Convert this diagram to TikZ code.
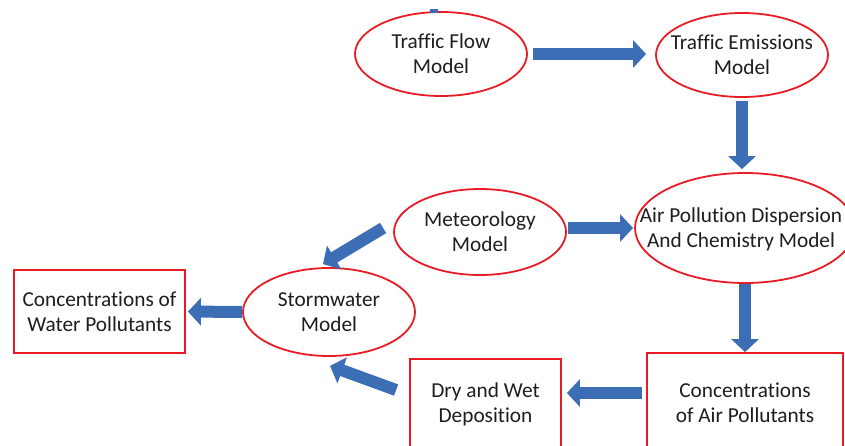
\documentclass[tikz,border=0pt]{standalone}
\usepackage{fontspec}
\setmainfont[Ligatures={NoCommon}]{Carlito}
\usetikzlibrary{shapes.geometric,arrows.meta,calc}
\definecolor{edgered}{RGB}{232,28,36}
\definecolor{arrowblue}{RGB}{59,110,181}
\definecolor{txt}{RGB}{30,30,30}
\begin{document}
\begin{tikzpicture}[x=1pt,y=-1pt,
  lbl/.style={align=center,text=txt,font=\fontsize{21.3}{25}\selectfont,inner sep=0pt},
  oval/.style={ellipse,draw=edgered,line width=1.8pt,fill=white,inner sep=0pt},
  box/.style={lbl,rectangle,draw=edgered,line width=1.8pt,fill=white},
  blk/.style={draw=arrowblue,line width=12pt,-{Triangle[length=13pt,width=27pt]}}
]
\useasboundingbox (0,0) rectangle (845,445);
\clip (0,0) rectangle (845,445);
\fill[white] (0,0) rectangle (845,445);

\node[oval,minimum width=172pt,minimum height=84pt] (flow) at (441,54) {};
\node[lbl] (flowt) at (flow.center) {Traffic Flow\\Model};
\node[oval,minimum width=172pt,minimum height=84pt] (emis) at (742,55) {};
\node[lbl] (emist) at (emis.center) {Traffic Emissions\\Model};
\node[oval,minimum width=172pt,minimum height=86pt] (met) at (480,232) {};
\node[lbl] (mett) at (met.center) {Meteorology\\Model};
\node[oval,minimum width=220pt,minimum height=110pt] (air) at (745,228) {};
\node[lbl] (airt) at (741,229) {Air Pollution Dispersion\\And Chemistry Model};
\node[oval,minimum width=172pt,minimum height=88pt] (storm) at (329,312) {};
\node[lbl] (stormt) at (storm.center) {Stormwater\\Model};
\node[box,minimum width=171pt,minimum height=83pt] (water) at (99.5,311.5) {Concentrations of\\Water Pollutants};
\node[box,minimum width=151pt,minimum height=90pt] (dry) at (485.5,404) {Dry and Wet\\Deposition};
\node[box,minimum width=196pt,minimum height=100pt] (concair) at (745,403) {Concentrations\\of Air Pollutants};

\fill[arrowblue] (430,9) rectangle (438,13);

\draw[blk,shorten <=5pt,shorten >=9pt] (flow.east) -- (flow.east -| emis.west);
\draw[blk,shorten <=3pt,shorten >=3pt] (emis.south) -- (emis.south |- air.north);
\draw[blk,shorten <=1pt,shorten >=1pt] (met.east |- air.west) -- (air.west);
\draw[blk] ($(met.west)+(-10,-4)$) -- ($(storm.north)+(-6,-3)$);
\draw[blk,shorten >=2pt] (storm.west) -- (water.east);
\draw[blk] (air.south) -- (air.south |- concair.north);
\draw[blk,shorten <=4pt,shorten >=5pt] ([yshift=10pt]concair.west) -- ([yshift=10pt]concair.west -| dry.east);
\draw[blk] ($(dry.west)+(-13,-14)$) -- ($(storm.south)+(1,9)$);
\end{tikzpicture}
\end{document}
